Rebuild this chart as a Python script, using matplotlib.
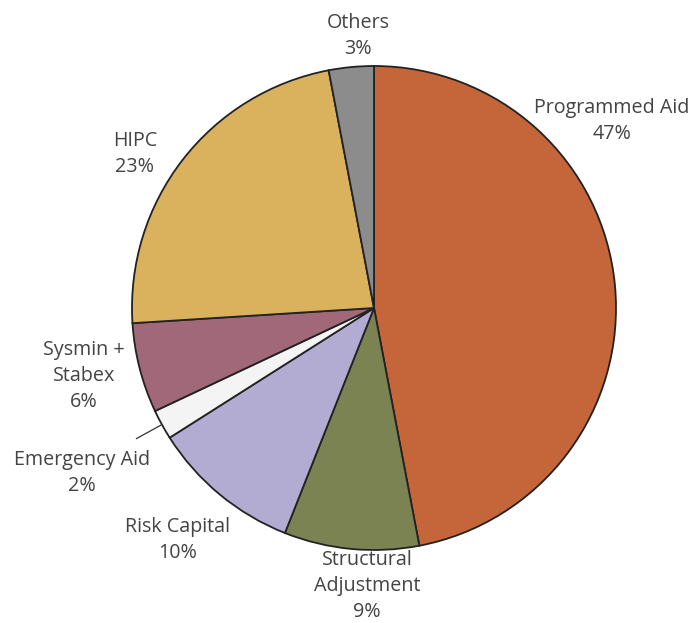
import numpy as np
import matplotlib.pyplot as plt

# funding shares, clockwise from 12 o'clock
labels = ['Programmed Aid', 'Structural\nAdjustment', 'Risk Capital', 'Emergency Aid',
          'Sysmin +\nStabex', 'HIPC', 'Others']
shares = [47, 9, 10, 2, 6, 23, 3]
colors = ['#c4663a', '#7b8352', '#b2acd2', '#f4f4f4', '#a06878', '#dab25e', '#8c8c8c']

# where each caption sits (pixels, y measured from the top)
label_xy = [(612, 121), (367, 586), (178, 540), (82, 473), (84, 376), (135, 154), (358, 36)]

W, H = 696, 623
cx, cy, r = 374, 315, 242

fig = plt.figure(figsize=(W / 100, H / 100), dpi=100)
ax = fig.add_axes([0, 0, 1, 1])

wedges, _ = ax.pie(shares, colors=colors, startangle=90, counterclock=False,
                   center=(cx, cy), radius=r, frame=True,
                   wedgeprops=dict(edgecolor='#222222', linewidth=1.3))
ax.set_xlim(0, W)
ax.set_ylim(0, H)
ax.set_aspect('equal')
ax.axis('off')

for lab, val, (x, y) in zip(labels, shares, label_xy):
    ax.text(x, H - y, f'{lab}\n{val}%', ha='center', va='center',
            fontsize=14.2, family='Open Sans', color='#444444', linespacing=1.4)

# leader line for the thin Emergency Aid slice
w = wedges[3]
mid = np.deg2rad((w.theta1 + w.theta2) / 2)
ax.plot([cx + r * np.cos(mid), cx + 1.12 * r * np.cos(mid)],
        [cy + r * np.sin(mid), cy + 1.12 * r * np.sin(mid)],
        color='#333333', linewidth=0.9)

fig.savefig('out.png', dpi=100, facecolor='white')
